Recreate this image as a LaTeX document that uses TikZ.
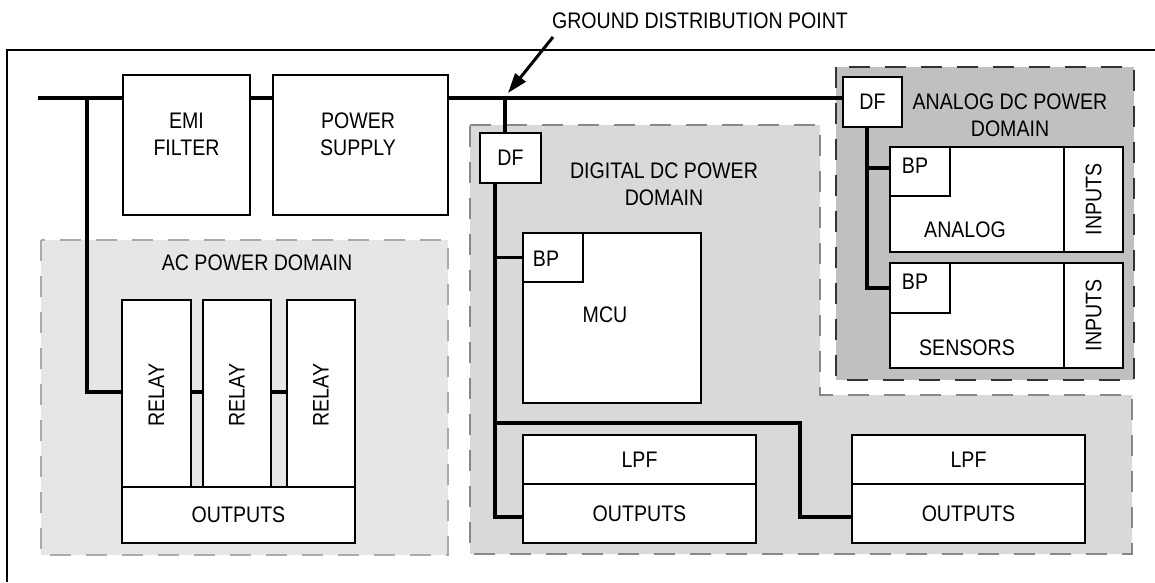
\documentclass[tikz,border=0pt]{standalone}
\usepackage{fontspec}
\setmainfont[FakeStretch=0.87]{Liberation Sans}
\usetikzlibrary{fit,arrows.meta}
\definecolor{acfill}{HTML}{E6E6E6}
\definecolor{acline}{HTML}{AAAAAA}
\definecolor{dgfill}{HTML}{D9D9D9}
\definecolor{dgline}{HTML}{888888}
\definecolor{anfill}{HTML}{C0C0C0}
\definecolor{anline}{HTML}{333333}
\begin{document}
\begin{tikzpicture}[x=1pt,y=-1pt,
  every node/.style={font=\fontsize{22.5}{27}\selectfont},
  box/.style={draw,line width=1.6pt,fill=white,inner sep=0pt,outer sep=0pt},
  bus/.style={line width=3.6pt},
  txt/.style={inner sep=0pt,outer sep=0pt,align=center},
  pwrdomain/.style={line width=1.8pt,dash pattern=on 21pt off 15pt},
  frame/.style={line width=1.8pt}]
\useasboundingbox (0,0) rectangle (1155,582);

% outer frame (cropped)
\draw[frame] (1155,50) -- (7,50) -- (7,582);

% domains
\path[pwrdomain,fill=acfill,draw=acline] (41,240) rectangle (448,555);
\path[pwrdomain,fill=dgfill,draw=dgline] (470,125) -- (820,125) -- (820,395) -- (1132,395) -- (1132,554) -- (470,554) -- cycle;
\path[pwrdomain,fill=anfill,draw=anline] (836,67) rectangle (1134,380);

\node[txt] (aclbl) at (257,263) {AC POWER DOMAIN};
\node[txt] (dglbl) at (664,184) {DIGITAL DC POWER\\DOMAIN};
\node[txt] (anlbl) at (1010,115) {ANALOG DC POWER\\DOMAIN};

% top boxes
\node[box,fit={(123,75)(250,215)}] (emi) {};
\node[txt] (emit) at (186.5,134) {EMI\\FILTER};
\node[box,fit={(273,75)(448,215)}] (ps) {};
\node[txt] (pst) at (358,134) {POWER\\SUPPLY};

% AC domain
\node[box,fit={(122,300)(191,487)}] (r1) {};
\node[box,fit={(203,300)(271,487)}] (r2) {};
\node[box,fit={(287,300)(355,487)}] (r3) {};
\node[txt,rotate=90] (r1t) at (156.5,395) {RELAY};
\node[txt,rotate=90] (r2t) at (237,395) {RELAY};
\node[txt,rotate=90] (r3t) at (321,395) {RELAY};
\node[box,fit={(122,487)(355,543)}] (acout) {};
\node[txt] (acoutt) at (acout.center) {OUTPUTS};

% Digital domain
\node[box,fit={(480,133)(541,183)}] (dfd) {};
\node[txt] (dfdt) at (dfd.center) {DF};
\node[box,fit={(523,233)(701,403)}] (mcu) {};
\node[box,fit={(523,233)(583,282)}] (bpm) {};
\node[txt] (bpmt) at (546,259) {BP};
\node[txt] (mcut) at (605,315) {MCU};
\node[box,fit={(523,435)(756,484)}] (lpf1) {};
\node[txt] (lpf1t) at (lpf1.center) {LPF};
\node[box,fit={(523,484)(756,543)}] (out1) {};
\node[txt] (out1t) at (out1.center) {OUTPUTS};
\node[box,fit={(852,435)(1085,484)}] (lpf2) {};
\node[txt] (lpf2t) at (lpf2.center) {LPF};
\node[box,fit={(852,484)(1085,543)}] (out2) {};
\node[txt] (out2t) at (out2.center) {OUTPUTS};

% Analog domain
\node[box,fit={(843,77)(902,127)}] (dfa) {};
\node[txt] (dfat) at (dfa.center) {DF};
\node[box,fit={(890,147)(1064,252)}] (ana) {};
\node[box,fit={(1064,147)(1123,252)}] (ina) {};
\node[box,fit={(890,147)(950,196)}] (bpa) {};
\node[txt] (bpat) at (915,166) {BP};
\node[txt] (anat) at (965,230) {ANALOG};
\node[txt,rotate=90] (inat) at (ina.center) {INPUTS};
\node[box,fit={(890,263)(1064,368)}] (sen) {};
\node[box,fit={(1064,263)(1123,368)}] (ins) {};
\node[box,fit={(890,263)(950,313)}] (bps) {};
\node[txt] (bpst) at (915,282) {BP};
\node[txt] (sent) at (967,348) {SENSORS};
\node[txt,rotate=90] (inst) at (ins.center) {INPUTS};

% bus lines
\coordinate (busstart) at (38,98);
\coordinate (actap) at (87,98);
\coordinate (gdp) at (505,98);
\coordinate (dbus) at (495,183);
\coordinate (dcorner) at (800,423);
\coordinate (abus) at (867,127);

\draw[bus] (busstart) -- (emi.west |- busstart);
\draw[bus] (emi.east |- busstart) -- (ps.west |- busstart);
\draw[bus] (ps.east |- busstart) -- (dfa.west |- busstart);
\draw[bus] (actap) |- (r1.west |- 0,392);
\draw[bus] (r1.east |- 0,392) -- (r2.west |- 0,392);
\draw[bus] (r2.east |- 0,392) -- (r3.west |- 0,392);
\draw[bus] (gdp) -- (gdp |- dfd.north);
\draw[bus] (dbus) |- (out1.west |- 0,517);
\draw[bus] (dbus |- bpm.west) -- (bpm.west);
\draw[bus] (dbus |- dcorner) -- (dcorner) |- (out2.west |- 0,517);
\draw[bus] (abus) |- (bps.west |- 0,288);
\draw[bus] (abus |- 0,168) -- (bpa.west |- 0,168);

% ground distribution point
\node[txt] (gdplbl) at (700,20.5) {GROUND DISTRIBUTION POINT};
\coordinate (gdptail) at (553,37);
\coordinate (gdptip) at (508,93);
\draw[line width=3pt,-{Triangle[length=20pt,width=13pt]}] (gdptail) -- (gdptip);
\end{tikzpicture}
\end{document}
